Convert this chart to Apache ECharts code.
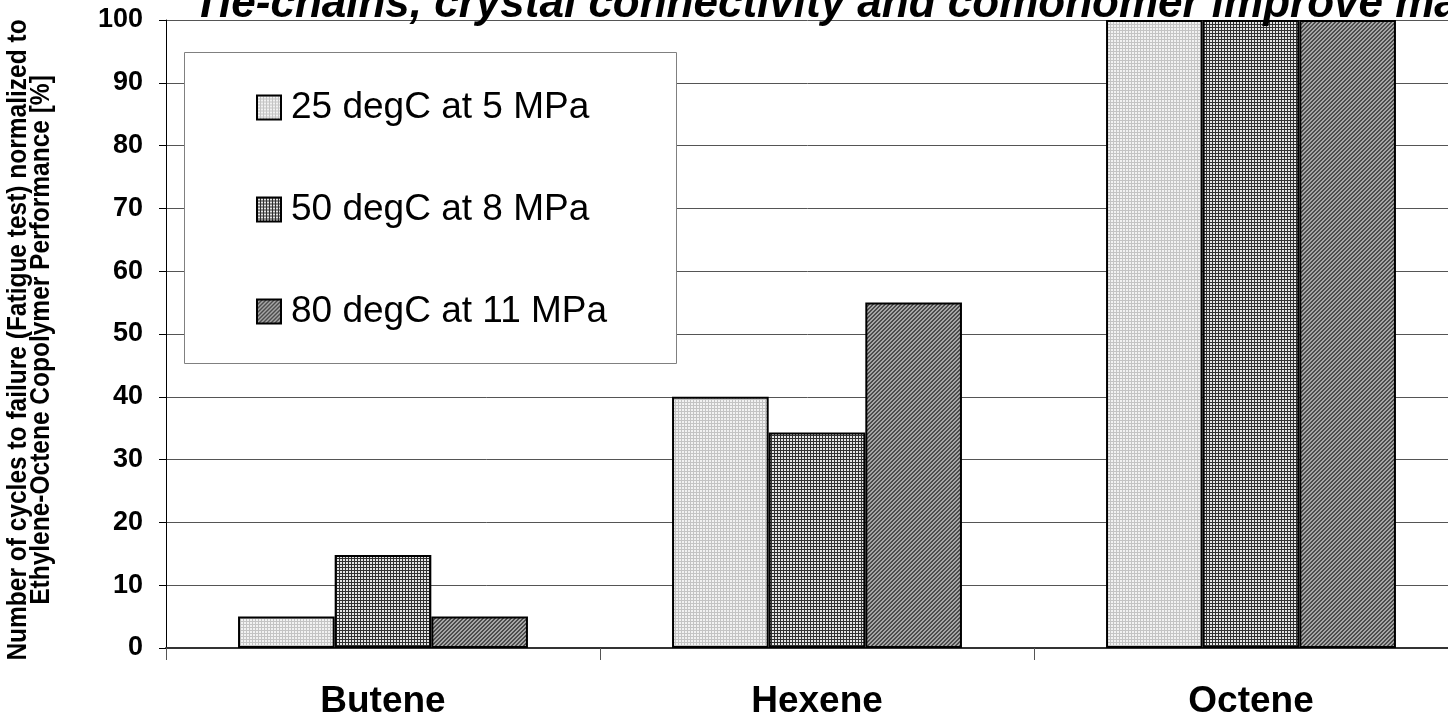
<!DOCTYPE html>
<html>
<head>
<meta charset="utf-8">
<script src="https://cdn.jsdelivr.net/npm/echarts@6/dist/echarts.min.js"></script>
<style>
  html, body { margin: 0; padding: 0; background: #fff; }
  #chart { width: 1448px; height: 718px; }
</style>
</head>
<body>
<div id="chart"></div>
<script>
// Comonomer types on the category axis
const categories = ['Butene', 'Hexene', 'Octene'];
// Test conditions (one series each)
const seriesNames = ['25 degC at 5 MPa', '50 degC at 8 MPa', '80 degC at 11 MPa'];
// Cycles to failure, normalized to the ethylene-octene copolymer [%]
const values25C = [5, 40, 100];
const values50C = [14.8, 34.3, 100];
const values80C = [5, 55, 100];
// Value axis ticks
const yMin = 0, yMax = 100, yStep = 10;

const titleText = 'Tie-chains, crystal connectivity and comonomer improve material performance';
const yNameLines = [
  'Number of cycles to failure (Fatigue test) normalized to',
  'Ethylene-Octene Copolymer Performance [%]'
];

const FONT = '"Liberation Sans", Arial, sans-serif';

// Small bitmap fills used for the bars
function makePattern(size, painter) {
  const c = document.createElement('canvas');
  c.width = size; c.height = size;
  const ctx = c.getContext('2d');
  for (let y = 0; y < size; y++) {
    for (let x = 0; x < size; x++) {
      ctx.fillStyle = painter(x, y);
      ctx.fillRect(x, y, 1, 1);
    }
  }
  return { image: c, repeat: 'repeat' };
}
// light dotted grey
const fillLight = makePattern(3, (x, y) => (x === 0 || y === 0) ? '#c4c4c4' : '#f2f2f2');
// dark fine grid with white cells
const fillGrid = makePattern(3, (x, y) => (x === 0 || y === 0) ? '#303030' : '#e4e4e4');
// diagonal hatch
const fillHatch = makePattern(4, (x, y) => ((x + y) % 4 < 2) ? '#4c4c4c' : '#a6a6a6');

const fills = [fillLight, fillGrid, fillHatch];
const seriesData = [values25C, values50C, values80C];

const chart = echarts.init(document.getElementById('chart'), null, { renderer: 'canvas' });

chart.setOption({
  animation: false,
  backgroundColor: '#ffffff',
  textStyle: { fontFamily: FONT },
  grid: {
    left: 166, right: -20, top: 20, bottom: 70,
    containLabel: false,
    outerBoundsMode: 'none'
  },
  legend: {
    orient: 'vertical',
    left: 251,
    top: 82,
    itemWidth: 24,
    itemHeight: 24,
    itemGap: 61,
    icon: 'rect',
    z: 5,
    textStyle: {
      fontFamily: FONT,
      fontSize: 37,
      lineHeight: 41,
      color: '#000',
      padding: [0, 0, 0, 5]
    },
    data: seriesNames
  },
  xAxis: {
    type: 'category',
    data: categories,
    axisLine: { show: true, lineStyle: { color: '#333', width: 2 } },
    axisTick: { show: true, length: 12, lineStyle: { color: '#555', width: 1 } },
    axisLabel: {
      margin: 35,
      color: '#000',
      fontFamily: FONT,
      fontWeight: 'bold',
      fontSize: 37
    },
    splitLine: { show: false }
  },
  yAxis: {
    type: 'value',
    min: yMin,
    max: yMax,
    interval: yStep,
    axisLine: { show: true, lineStyle: { color: '#000', width: 1 } },
    axisTick: { show: true, length: 7, lineStyle: { color: '#000', width: 1 } },
    axisLabel: {
      margin: 23,
      color: '#000',
      fontFamily: FONT,
      fontWeight: 'bold',
      fontSize: 27
    },
    splitLine: { show: true, lineStyle: { color: '#555', width: 1 } }
  },
  graphic: [
    {
      type: 'rect',
      z: 3,
      shape: { x: 184.5, y: 52.5, width: 492, height: 311 },
      style: { fill: '#fff', stroke: '#808080', lineWidth: 1 }
    },
    {
      type: 'text',
      z: 6,
      x: 193,
      y: 5,
      style: {
        text: titleText,
        fontFamily: FONT,
        fontSize: 44,
        fontWeight: 'bold',
        fontStyle: 'italic',
        fill: '#000',
        align: 'left',
        verticalAlign: 'middle'
      }
    },
    {
      // rotated two-line value axis title
      type: 'text',
      z: 6,
      x: 29.5,
      y: 340,
      rotation: Math.PI / 2,
      scaleY: 1.12,
      style: {
        text: yNameLines.join('\n'),
        fontFamily: FONT,
        fontSize: 24.5,
        lineHeight: 20.5,
        fontWeight: 'bold',
        fill: '#000',
        align: 'center',
        verticalAlign: 'middle'
      }
    }
  ],
  series: seriesNames.map((name, i) => ({
    name: name,
    type: 'bar',
    data: seriesData[i],
    barGap: '0%',
    barCategoryGap: '33.2%',
    itemStyle: {
      color: fills[i],
      borderColor: '#000',
      borderWidth: 2
    },
    emphasis: { disabled: true }
  }))
});
</script>
</body>
</html>
